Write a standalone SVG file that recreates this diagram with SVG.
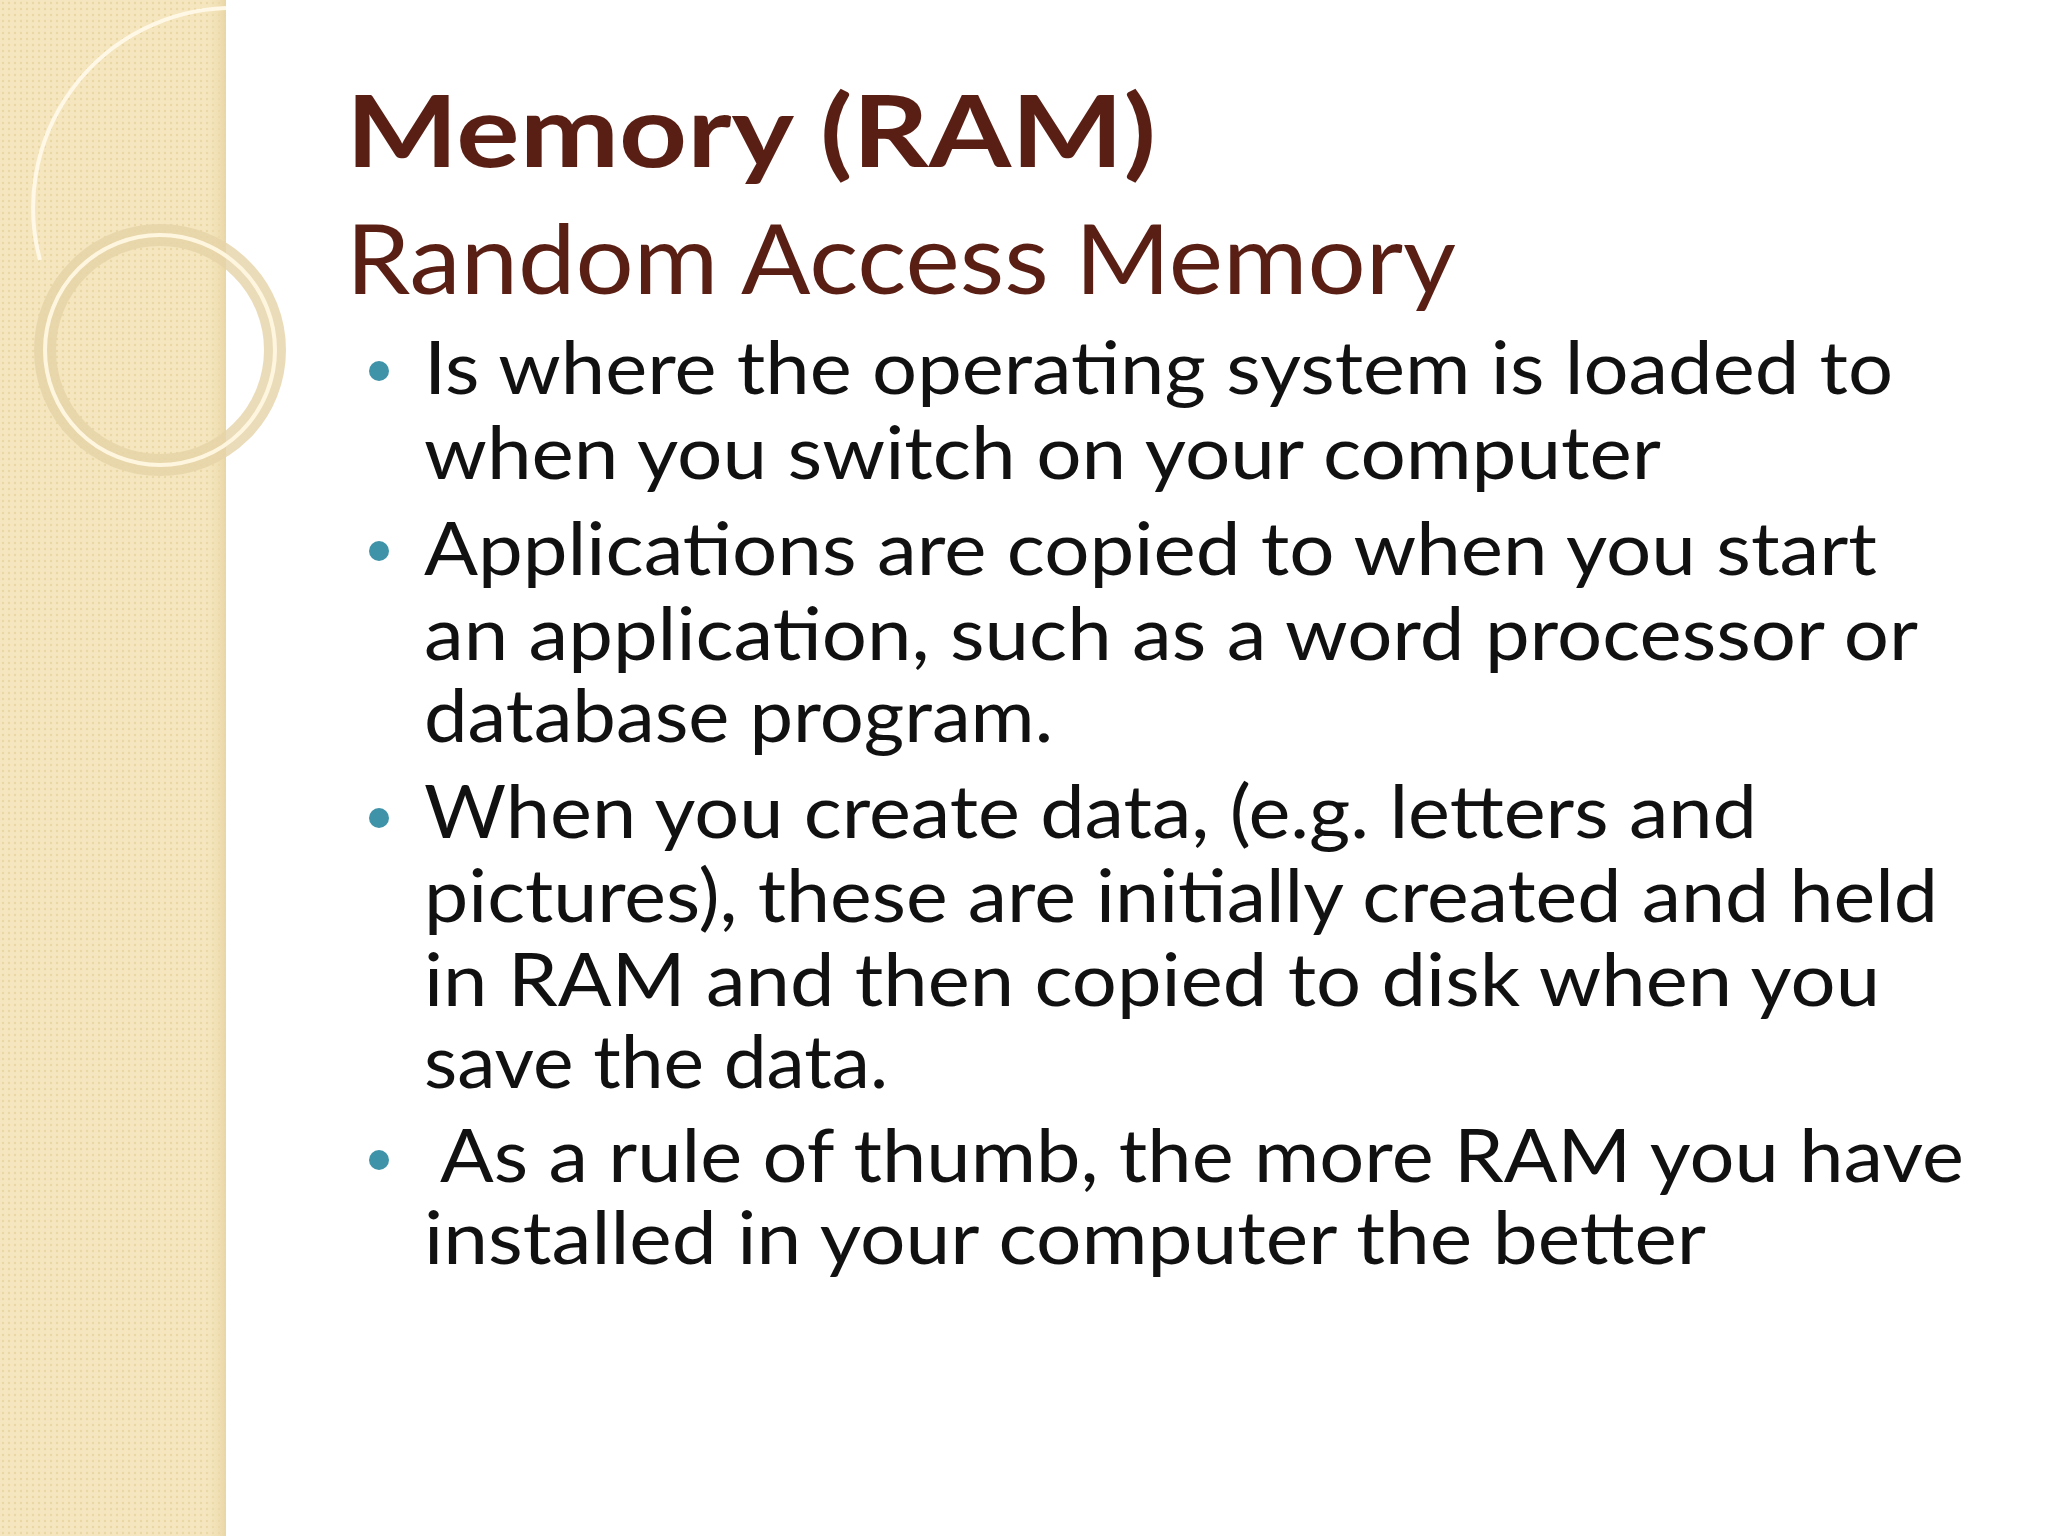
<svg xmlns="http://www.w3.org/2000/svg" width="2048" height="1536" viewBox="0 0 2048 1536">
<defs>
<pattern id="dots" width="6" height="6" patternUnits="userSpaceOnUse">
<rect width="6" height="6" fill="#f5e6bf"/>
<circle cx="3" cy="3" r="1.2" fill="#ead7a6"/>
</pattern>
<linearGradient id="edge" x1="0" x2="1">
<stop offset="0" stop-color="#f3e2b6" stop-opacity="0"/>
<stop offset="1" stop-color="#e9d6a6"/>
</linearGradient>
</defs>
<style>
.t{font-family:Lato,"Open Sans",sans-serif;fill:#5a1f14}
.b{font-family:Lato,"Open Sans",sans-serif;font-size:74px;fill:#111}
.dot{fill:#3f93a9}
</style>
<rect width="2048" height="1536" fill="#ffffff"/>
<g id="sidebar">
<rect x="0" y="0" width="226" height="1536" fill="url(#dots)"/>
<rect x="206" y="0" width="20" height="1536" fill="url(#edge)"/>
<path d="M226 8 A200 200 0 0 0 40 260" fill="none" stroke="#fff8e6" stroke-width="4"/>
<circle cx="160" cy="350" r="115" fill="none" stroke="#e6d3a8" stroke-width="22" opacity="0.8"/>
<circle cx="160" cy="350" r="115" fill="none" stroke="#fff6e0" stroke-width="4"/>
</g>
<g id="title">
<text class="t" x="346" y="167" font-size="100" font-weight="bold" textLength="810" lengthAdjust="spacingAndGlyphs">Memory (RAM)</text>
<text class="t" x="346" y="294" font-size="96" textLength="1110" lengthAdjust="spacingAndGlyphs">Random Access Memory</text>
</g>
<g id="bullets">
<circle class="dot" cx="379" cy="371" r="10"/>
<circle class="dot" cx="379" cy="551" r="10"/>
<circle class="dot" cx="379" cy="818" r="10"/>
<circle class="dot" cx="379" cy="1160" r="10"/>
<text class="b" x="424" y="394" textLength="1469" lengthAdjust="spacingAndGlyphs">Is where the operating system is loaded to</text>
<text class="b" x="424" y="479" textLength="1237" lengthAdjust="spacingAndGlyphs">when you switch on your computer</text>
<text class="b" x="424" y="575" textLength="1453" lengthAdjust="spacingAndGlyphs">Applications are copied to when you start</text>
<text class="b" x="424" y="660" textLength="1494" lengthAdjust="spacingAndGlyphs">an application, such as a word processor or</text>
<text class="b" x="424" y="742" textLength="629" lengthAdjust="spacingAndGlyphs">database program.</text>
<text class="b" x="424" y="838" textLength="1333" lengthAdjust="spacingAndGlyphs">When you create data, (e.g. letters and</text>
<text class="b" x="424" y="922" textLength="1514" lengthAdjust="spacingAndGlyphs">pictures), these are initially created and held</text>
<text class="b" x="424" y="1006" textLength="1456" lengthAdjust="spacingAndGlyphs">in RAM and then copied to disk when you</text>
<text class="b" x="424" y="1088" textLength="464" lengthAdjust="spacingAndGlyphs">save the data.</text>
<text class="b" x="440" y="1182" textLength="1524" lengthAdjust="spacingAndGlyphs">As a rule of thumb, the more RAM you have</text>
<text class="b" x="424" y="1264" textLength="1282" lengthAdjust="spacingAndGlyphs">installed in your computer the better</text>
</g>
</svg>
